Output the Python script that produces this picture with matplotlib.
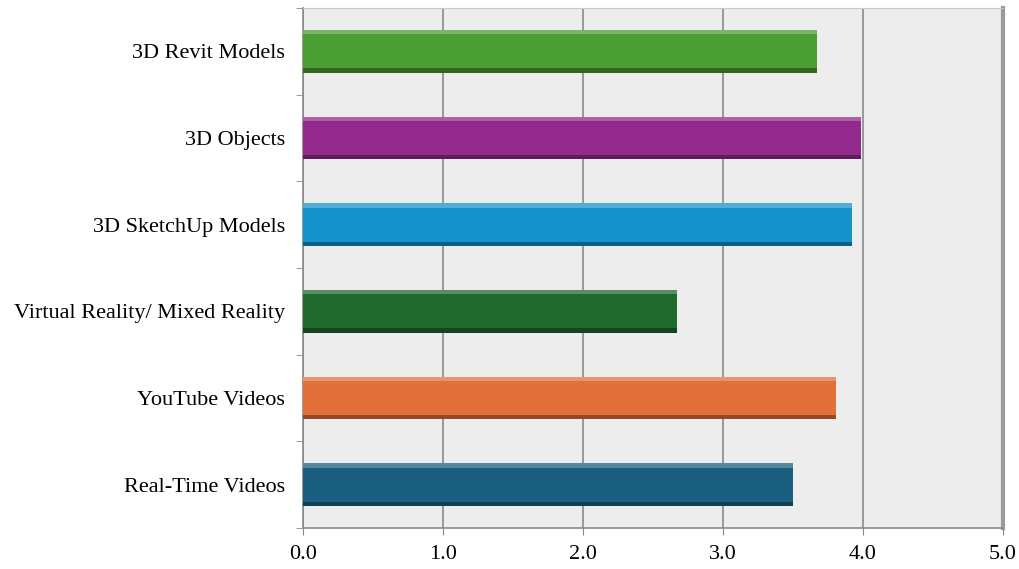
import matplotlib
matplotlib.use("Agg")
import matplotlib.pyplot as plt
import matplotlib.colors as mcolors
import numpy as np

categories = ["Real-Time Videos", "YouTube Videos", "Virtual Reality/ Mixed Reality",
              "3D SketchUp Models", "3D Objects", "3D Revit Models"]
values = [3.50, 3.81, 2.67, 3.92, 3.99, 3.67]
colors = ["#1b5f80", "#e2703a", "#1f6a2c", "#1393c9", "#94298c", "#4b9e33"]
xticks = [0.0, 1.0, 2.0, 3.0, 4.0, 5.0]

plt.rcParams['font.family'] = ['Liberation Serif', 'DejaVu Serif']

fig = plt.figure(figsize=(10.19, 5.69), dpi=100)
ax = fig.add_axes([0.2974, 0.072, 0.6866, 0.914])
ax.set_facecolor("#ededed")

y = np.arange(len(categories))
h = 0.49
ax.barh(y, values, height=h, color=colors, edgecolor="none", zorder=3)


def shade(c, f):
    r = np.array(mcolors.to_rgb(c))
    if f > 0:
        return tuple(r + (1 - r) * f)
    return tuple(r * (1 + f))


top_cols = [shade(c, 0.25) for c in colors]
bot_cols = [shade(c, -0.35) for c in colors]
ax.barh(y + h / 2 - 0.025, values, height=0.05, color=top_cols, edgecolor="none", zorder=4)
ax.barh(y - h / 2 + 0.025, values, height=0.05, color=bot_cols, edgecolor="none", zorder=4)

ax.set_xlim(0, 5)
ax.set_ylim(-0.5, len(categories) - 0.5)
ax.set_xticks(xticks)
ax.set_xticklabels([f"{t:.1f}" for t in xticks], fontsize=16)
ax.set_yticks(y)
ax.set_yticklabels(categories, fontsize=16)
ax.tick_params(axis="y", length=0, pad=13)
ax.set_yticks(np.arange(-0.5, len(categories), 1.0), minor=True)
ax.tick_params(axis="y", which="minor", length=5, color="#888888", direction="out")
ax.tick_params(axis="x", length=5, color="#888888", direction="out", pad=7)

ax.grid(axis="x", color="#8a8a8a", linewidth=1.2, zorder=1)
for s in ["left", "bottom"]:
    ax.spines[s].set_color("#8a8a8a")
    ax.spines[s].set_linewidth(1.2)
ax.spines["top"].set_color("#c8c8c8")
ax.spines["right"].set_color("#9a9a9a")
ax.spines["right"].set_linewidth(3)

fig.savefig("out.png", dpi=100)
